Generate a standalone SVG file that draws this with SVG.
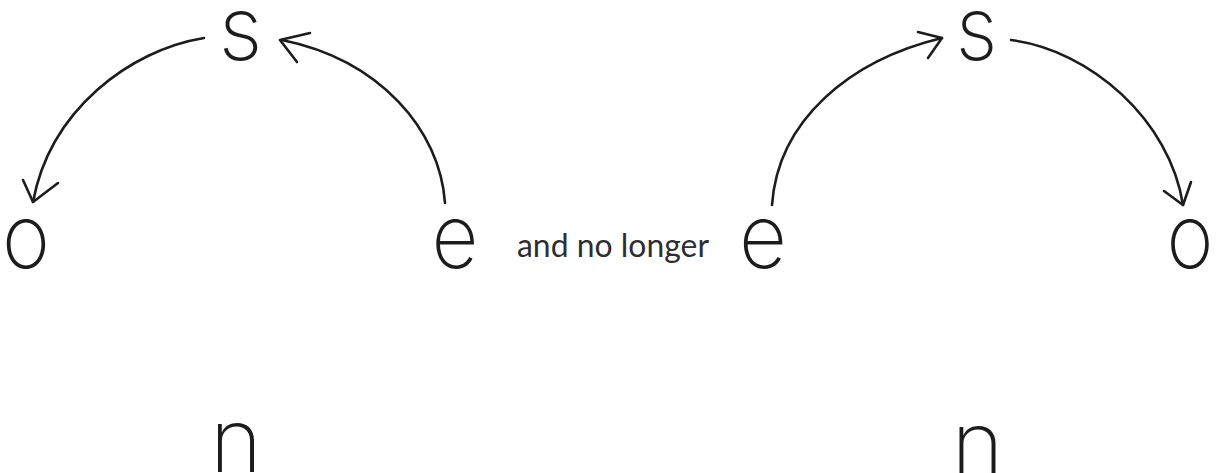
<svg xmlns="http://www.w3.org/2000/svg" width="1221" height="473" viewBox="0 0 1221 473">
<style>
.l{font-family:Inter,"DejaVu Sans",sans-serif;font-weight:250;font-size:88px;fill:#1c1c1c;text-anchor:middle}
.c{fill:none;stroke:#1c1c1c;stroke-width:2.6;stroke-linecap:round;stroke-linejoin:round}
.t{font-family:Lato,"Open Sans","Liberation Sans",sans-serif;font-size:33px;fill:#2e2e2e}
</style>
<rect width="1221" height="473" fill="#fff"/>
<g id="s1"><text class="l" x="240.5" y="60" textLength="44" lengthAdjust="spacingAndGlyphs">s</text></g>
<g id="o1"><text class="l" x="26" y="268" textLength="48" lengthAdjust="spacingAndGlyphs">o</text></g>
<g id="e1"><text class="l" x="455" y="268" textLength="47" lengthAdjust="spacingAndGlyphs">e</text></g>
<g id="n1"><text class="l" x="236" y="472" textLength="52" lengthAdjust="spacingAndGlyphs">n</text></g>
<g id="label"><text class="t" x="517" y="257" textLength="192" lengthAdjust="spacingAndGlyphs">and no longer</text></g>
<g id="e2"><text class="l" x="763" y="268" textLength="48" lengthAdjust="spacingAndGlyphs">e</text></g>
<g id="s2"><text class="l" x="976.5" y="60" textLength="42" lengthAdjust="spacingAndGlyphs">s</text></g>
<g id="o2"><text class="l" x="1190" y="268" textLength="47" lengthAdjust="spacingAndGlyphs">o</text></g>
<g id="n2"><text class="l" x="977.5" y="475" textLength="52" lengthAdjust="spacingAndGlyphs">n</text></g>
<g id="connectors">
<path class="c" d="M204,38 C130,50 50,110 33,202"/>
<path class="c" d="M23,180 L33,202 L58,183"/>
<path class="c" d="M445,203 C440,130 380,60 282,40"/>
<path class="c" d="M310,33 L280,40 L297,62"/>
<path class="c" d="M772,205 C778,120 850,60 942,38"/>
<path class="c" d="M918,32 L942,38 L928,58"/>
<path class="c" d="M1011,40 C1090,50 1170,120 1183,205"/>
<path class="c" d="M1164,191 L1183,205 L1191,182"/>
</g>
</svg>
